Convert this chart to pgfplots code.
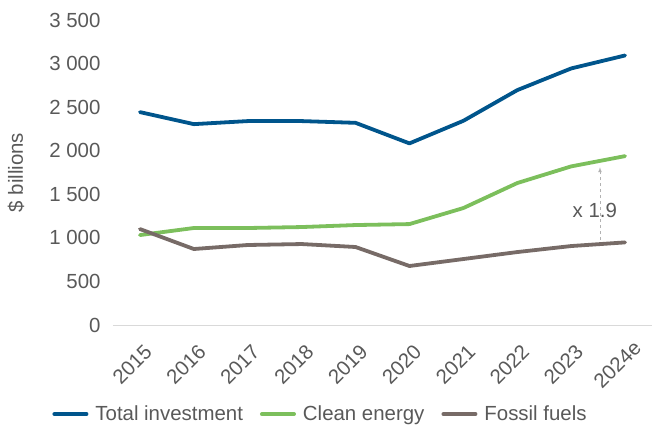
\documentclass[border=0pt]{standalone}
\usepackage{fontspec}
\setmainfont{Liberation Sans}
\usepackage{pgfplots}
\pgfplotsset{compat=1.18}

\definecolor{totalblue}{HTML}{00558C}
\definecolor{cleangreen}{HTML}{7CBF5C}
\definecolor{fossilgrey}{HTML}{776B67}
\definecolor{txtgrey}{HTML}{595959}
\definecolor{axisgrey}{HTML}{D9D9D9}

\begin{document}
\begin{tikzpicture}
\begin{axis}[
  scale only axis,
  width=539bp, height=305bp,
  xmin=-0.5, xmax=9.5,
  ymin=0, ymax=3500,
  ytick={0,500,...,3500},
  yticklabels={0,500,1\ 000,1\ 500,2\ 000,2\ 500,3\ 000,3\ 500},
  xtick={0,...,9},
  xticklabels={2015,2016,2017,2018,2019,2020,2021,2022,2023,2024e},
  axis y line*=left,
  axis x line*=bottom,
  y axis line style={draw=none},
  x axis line style={axisgrey, line width=1bp},
  major tick length=0pt,
  tick style={draw=none},
  ticklabel style={font=\fontsize{20.5}{24}\selectfont, text=txtgrey},
  yticklabel style={xshift=-9bp},
  % shifts act in the rotated frame: (-8,-38.5) on the page
  xticklabel style={rotate=45, anchor=center, xshift=-33.5bp, yshift=-22.5bp},
  ylabel={\$ billions},
  ylabel style={font=\fontsize{20.5}{24}\selectfont, text=txtgrey, at={(axis description cs:-0.18,0.5)}, anchor=center},
  legend columns=3,
  legend style={draw=none, fill=none, font=\fontsize{20.5}{24}\selectfont, text=txtgrey,
    at={(axis description cs:0.385,-0.292)}, anchor=center,
    /tikz/every odd column/.append style={column sep=5bp},
    /tikz/every even column/.append style={column sep=15bp}},
  legend image code/.code={\draw[#1, line width=4bp] (0bp,0bp) -- (32bp,0bp);},
  every axis plot/.append style={line width=3.8bp, line join=round, line cap=round},
  clip=false,
]
\addplot[totalblue, mark=none] coordinates {
  (0,2443) (1,2305) (2,2340) (3,2340) (4,2320) (5,2084) (6,2343) (7,2695) (8,2944) (9,3093)
};
\addplot[cleangreen, mark=none] coordinates {
  (0,1032) (1,1113) (2,1113) (3,1124) (4,1147) (5,1158) (6,1342) (7,1629) (8,1820) (9,1938)
};
\addplot[fossilgrey, mark=none] coordinates {
  (0,1101) (1,872) (2,918) (3,929) (4,895) (5,677) (6,757) (7,837) (8,906) (9,948)
};
\legend{Total investment, Clean energy, Fossil fuels}
\draw[-latex, dashed, line width=0.7bp, color=black!30] (axis cs:8.535,975) -- (axis cs:8.535,1810);
\node[text=txtgrey, font=\fontsize{20.5}{24}\selectfont, inner sep=1bp] at (axis cs:8.44,1319) {x 1.9};
\end{axis}
\pgfresetboundingbox
\path (-113bp,-109bp) rectangle (539bp,325bp);
\end{tikzpicture}
\end{document}
